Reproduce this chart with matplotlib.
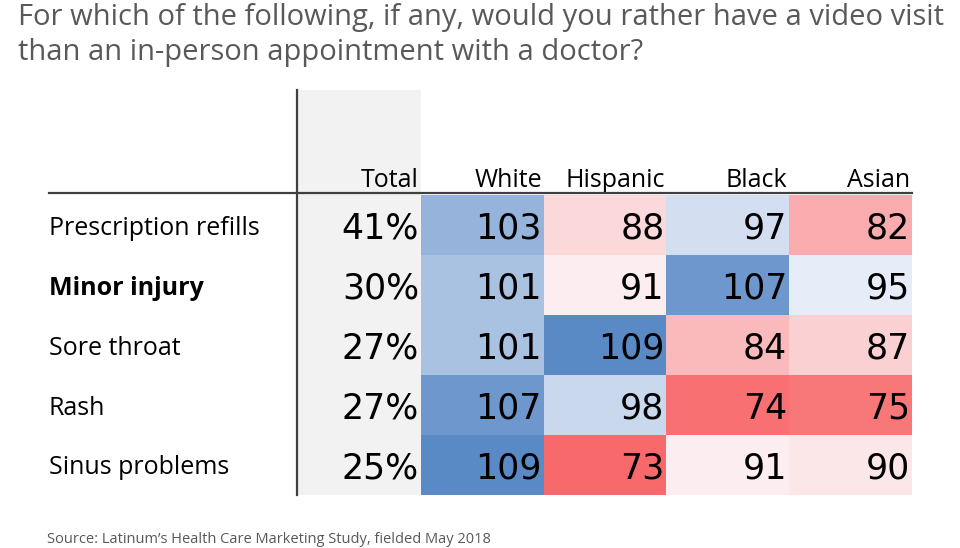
import numpy as np
import matplotlib
from matplotlib import pyplot as plt
from matplotlib.colors import LinearSegmentedColormap, TwoSlopeNorm
plt.switch_backend('agg')

plt.rcParams['font.family'] = ['Open Sans', 'DejaVu Sans']

title = ('For which of the following, if any, would you rather have a video visit\n'
         'than an in-person appointment with a doctor?')
source = 'Source: Latinum\u2019s Health Care Marketing Study, fielded May 2018'

rows = ['Prescription refills', 'Minor injury', 'Sore throat', 'Rash', 'Sinus problems']
bold_rows = ['Minor injury']
groups = ['White', 'Hispanic', 'Black', 'Asian']
total = [41, 30, 27, 27, 25]
white = [103, 101, 101, 107, 109]
hispanic = [88, 91, 109, 98, 73]
black = [97, 107, 84, 74, 91]
asian = [82, 95, 87, 75, 90]

index = np.array([white, hispanic, black, asian]).T   # rows x groups

fig = plt.figure(figsize=(9.6, 5.48), dpi=100)
W, H = 960.0, 548.0
# table area in pixels: x 298..912, y 90..495 (top-down)
ax = fig.add_axes([298 / W, 1 - 495 / H, (912 - 298) / W, (495 - 90) / H])
nrow = len(rows)
top = 6.75
ax.set_xlim(0, 5)
ax.set_ylim(0, top)
ax.axis('off')

# Excel style 3-colour scale (red - white - blue), midpoint at the 50th percentile
cmap = LinearSegmentedColormap.from_list('rwb', ['#F8696B', '#FCFCFF', '#5A8AC6'])
norm = TwoSlopeNorm(vcenter=np.percentile(index, 50), vmin=index.min(), vmax=index.max())

num_font = dict(fontsize=25, family='DejaVu Sans', color='black')

# grey Total column
ax.add_patch(plt.Rectangle((0, 0), 1, top, color='#f2f2f2', lw=0, zorder=0))

for i in range(nrow):
    y0 = nrow - 1 - i
    ax.text(0.985, y0 + 0.5, '%d%%' % total[i], ha='right', va='center_baseline', **num_font)
    for j in range(len(groups)):
        v = index[i, j]
        ax.add_patch(plt.Rectangle((j + 1, y0), 1, 1, color=cmap(norm(v)), lw=0, zorder=1))
        ax.text(j + 1.985, y0 + 0.5, str(v), ha='right', va='center_baseline',
                zorder=2, **num_font)
    ax.text(-2.03, y0 + 0.5, rows[i], ha='left', va='center_baseline', fontsize=18,
            fontweight='bold' if rows[i] in bold_rows else 'normal', clip_on=False)

# header
for j, name in enumerate(['Total'] + groups):
    ax.text(j + 0.985, 5.13, name, ha='right', va='baseline', fontsize=18, color='black')

ax.plot([-2.03, 5], [5.03, 5.03], color='#404040', lw=1.6, clip_on=False, zorder=3)
ax.plot([-0.01, -0.01], [0, top], color='#404040', lw=1.6, clip_on=False, zorder=3)

fig.text(18 / W, 1 - 3 / H, title, ha='left', va='top', fontsize=21, color='#595959',
         linespacing=1.26)
fig.text(47 / W, 1 - 543 / H, source, ha='left', va='baseline', fontsize=10.5, color='#595959')

fig.savefig('out.png', dpi=100)
